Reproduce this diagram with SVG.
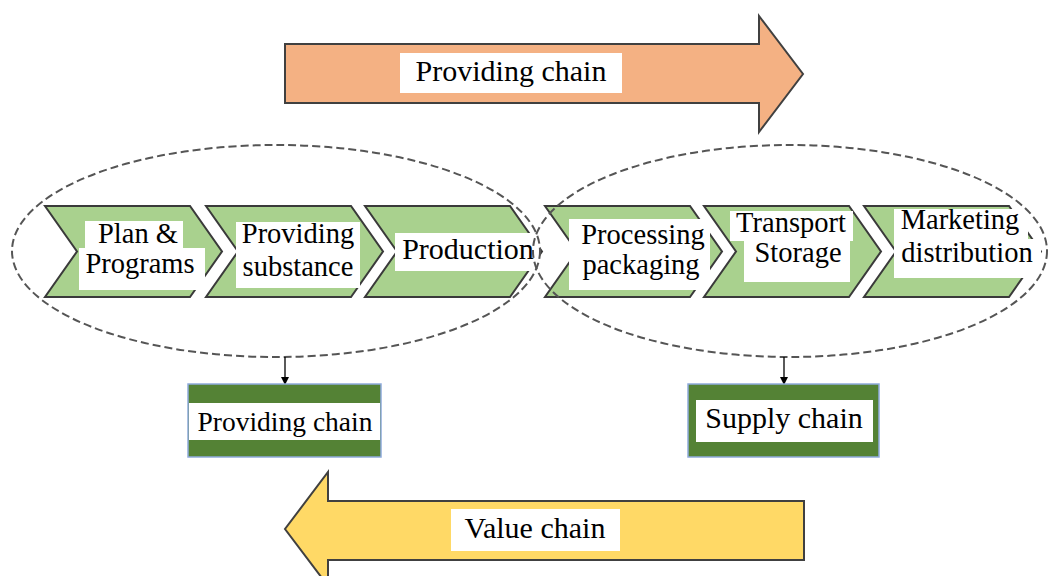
<svg xmlns="http://www.w3.org/2000/svg" width="1049" height="576" viewBox="0 0 1049 576" font-family="'Liberation Serif', 'DejaVu Serif', serif">
<defs>
<style>
.big{font-size:30px;fill:#000}
.chl{font-size:28.5px;fill:#000}
.chev{fill:#A9D18E;stroke:#3A3A3A;stroke-width:2;stroke-linejoin:miter}
.lbl{fill:#fff}
.ell{fill:none;stroke:#555;stroke-width:2;stroke-dasharray:8 4}
.conn{stroke:#000;stroke-width:1.3;fill:none}
.grn{fill:#548235;stroke:#8FAADC;stroke-width:1.5}
</style>
<marker id="ah" markerWidth="8" markerHeight="8" refX="7" refY="4" orient="auto" markerUnits="userSpaceOnUse">
<path d="M0,0 L8,4 L0,8 Z" fill="#000"/>
</marker>
</defs>
<rect width="1049" height="576" fill="#fff"/>

<g id="top-arrow">
<path d="M285,44 L759,44 L759,16 L803,74 L759,132 L759,103 L285,103 Z" fill="#F4B183" stroke="#404040" stroke-width="2"/>
<rect x="400" y="53" width="222" height="40" class="lbl"/>
<text x="511" y="81" text-anchor="middle" class="big">Providing chain</text>
</g>

<g id="value-arrow">
<path d="M804,501 L328,501 L328,472 L285,529 L328,586 L328,560 L804,560 Z" fill="#FFD966" stroke="#404040" stroke-width="2"/>
<rect x="451" y="509" width="169" height="42" class="lbl"/>
<text x="535" y="538" text-anchor="middle" class="big">Value chain</text>
</g>

<g id="n1">
<path class="chev" d="M45,206 L190,206 L222,251.5 L190,297 L45,297 L77,251.5 Z"/>
<rect x="85" y="221" width="98" height="27" class="lbl"/>
<rect x="79" y="248" width="126" height="42" class="lbl"/>
<text x="138" y="243" text-anchor="middle" class="chl">Plan &amp;</text>
<text x="140" y="273" text-anchor="middle" class="chl">Programs</text>
</g>

<g id="n2">
<path class="chev" d="M206,206 L351,206 L383,251.5 L351,297 L206,297 L238,251.5 Z"/>
<rect x="236" y="222" width="124" height="66" class="lbl"/>
<text x="298" y="243" text-anchor="middle" class="chl">Providing</text>
<text x="298" y="276" text-anchor="middle" class="chl">substance</text>
</g>

<g id="n3">
<path class="chev" d="M365,206 L510,206 L542,251.5 L510,297 L365,297 L397,251.5 Z"/>
<rect x="395" y="233" width="145" height="38" class="lbl"/>
<text x="468" y="259" text-anchor="middle" class="big">Production</text>
</g>

<g id="n4">
<path class="chev" d="M545,206 L690,206 L722,251.5 L690,297 L545,297 L577,251.5 Z"/>
<rect x="569" y="219" width="141" height="71" class="lbl"/>
<text x="643" y="244" text-anchor="middle" class="chl">Processing</text>
<text x="641" y="274" text-anchor="middle" class="chl">packaging</text>
</g>

<g id="n5">
<path class="chev" d="M704,206 L849,206 L881,251.5 L849,297 L704,297 L736,251.5 Z"/>
<rect x="730" y="211" width="123" height="30" class="lbl"/>
<rect x="744" y="241" width="106" height="41" class="lbl"/>
<text x="791" y="232" text-anchor="middle" class="chl">Transport</text>
<text x="798" y="262" text-anchor="middle" class="chl">Storage</text>
</g>

<g id="n6">
<path class="chev" d="M864,206 L1009,206 L1041,251.5 L1009,297 L864,297 L896,251.5 Z"/>
<rect x="894" y="209" width="134" height="30" class="lbl"/>
<rect x="894" y="239" width="147" height="39" class="lbl"/>
<text x="960" y="229" text-anchor="middle" class="chl">Marketing</text>
<text x="967" y="262" text-anchor="middle" class="chl">distribution</text>
</g>

<g id="groups">
<ellipse class="ell" cx="276" cy="251" rx="264" ry="106"/>
<ellipse class="ell" cx="790" cy="251" rx="257" ry="106"/>
</g>

<g id="connectors">
<line class="conn" x1="285" y1="357" x2="285" y2="384" marker-end="url(#ah)"/>
<line class="conn" x1="784" y1="357" x2="784" y2="384" marker-end="url(#ah)"/>
</g>

<g id="providing-chain-box">
<rect x="188" y="384" width="193" height="73" class="grn"/>
<rect x="189" y="403" width="191" height="37" fill="#fff"/>
<text x="285" y="431" text-anchor="middle" font-size="27.5">Providing chain</text>
</g>

<g id="supply-chain-box">
<rect x="688" y="384" width="191" height="73" class="grn"/>
<rect x="696" y="400" width="177" height="42" fill="#fff"/>
<text x="784" y="428" text-anchor="middle" class="big">Supply chain</text>
</g>
</svg>
